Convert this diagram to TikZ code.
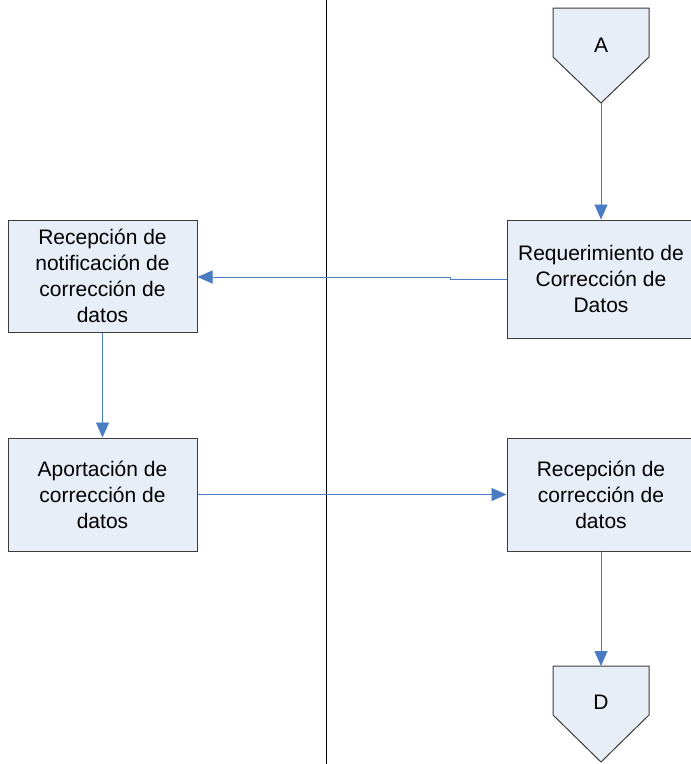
\documentclass[tikz,border=0pt]{standalone}
\usepackage{fontspec}
\setmainfont{Liberation Sans}
\usetikzlibrary{arrows.meta}
\definecolor{boxfill}{HTML}{E8EEF8}
\definecolor{boxline}{HTML}{3C3C3C}
\definecolor{arrowblue}{HTML}{4A7CC4}
\begin{document}
\begin{tikzpicture}[x=1pt,y=-1pt,
  procbox/.style={draw=boxline,fill=boxfill,line width=1pt,inner sep=0pt,
    align=center,font=\fontsize{21}{26}\selectfont},
  pent/.style={draw=boxline,fill=boxfill,line width=1pt},
  flow/.style={draw=arrowblue,line width=0.9pt,-{Triangle[length=15pt,width=13pt]}},
  lbl/.style={font=\fontsize{21}{26}\selectfont}]
\useasboundingbox (0,0) rectangle (691,764);
% divider
\draw[black,line width=1pt] (326,0) -- (326,764);
% pentagon A
\path[pent] (553,8) -- (649,8) -- (649,57) -- (601,103) -- (553,57) -- cycle;
\node[lbl] (A) at (601,45) {A};
\coordinate (Abot) at (601,103);
% pentagon D
\path[pent] (553,666) -- (649,666) -- (649,715) -- (601,762) -- (553,715) -- cycle;
\node[lbl] (D) at (601,702) {D};
\coordinate (Dtop) at (601,666);
% boxes
\node[procbox,minimum width=188pt,minimum height=118pt] (req) at (601,279)
  {Requerimiento de\\Corrección de\\Datos};
\node[procbox,minimum width=189pt,minimum height=112pt] (notif) at (102.5,276)
  {Recepción de\\notificación de\\corrección de\\datos};
\node[procbox,minimum width=189pt,minimum height=113pt] (apor) at (102.5,494.5)
  {Aportación de\\corrección de\\datos};
\node[procbox,minimum width=188pt,minimum height=113pt] (rec) at (601,494.5)
  {Recepción de\\corrección de\\datos};
% connectors
\draw[flow] (Abot) -- (req.north);
\coordinate (j1) at (450,279.5);
\coordinate (j2) at (450,277);
\draw[flow] (req.west |- j1) -- (j1) -- (j2) -- (notif.east |- j2);
\draw[flow] (notif.south) -- (apor.north);
\draw[flow] (apor.east) -- (rec.west);
\draw[flow] (rec.south) -- (Dtop);
\end{tikzpicture}
\end{document}
